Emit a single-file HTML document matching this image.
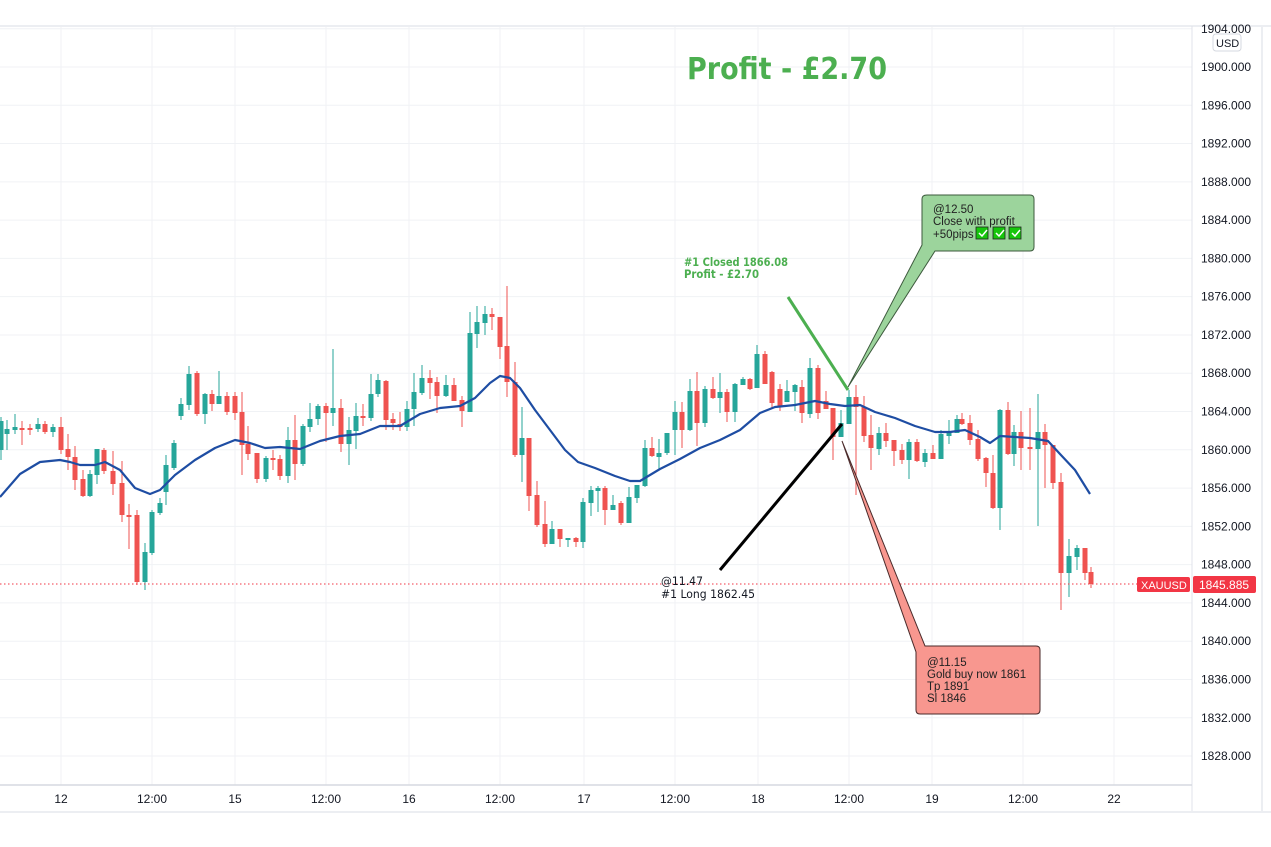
<!DOCTYPE html>
<html><head><meta charset="utf-8"><style>
body{margin:0;background:#fff;}
svg{display:block;font-family:"Liberation Sans",sans-serif;}
</style></head><body>
<svg id="s" width="1271" height="847" xmlns="http://www.w3.org/2000/svg">
<rect width="1271" height="847" fill="#fff"/>
<g id="grid"></g>
<line x1="0" y1="26" x2="1271" y2="26" stroke="#eceef2" stroke-width="2"/>
<line x1="1192" y1="26" x2="1192" y2="812" stroke="#e0e3eb"/>
<line x1="0" y1="785" x2="1192" y2="785" stroke="#d6d9e0" stroke-width="1.5"/>
<line x1="0" y1="812" x2="1271" y2="812" stroke="#eceef2" stroke-width="2"/>
<line x1="1262" y1="26" x2="1262" y2="812" stroke="#eceef2" stroke-width="2"/>
<g id="labels" font-size="12" fill="#131722"></g>
<g id="candles"></g>
<polyline id="ma" fill="none" stroke="#1e4da3" stroke-width="2.2" stroke-linejoin="round"/>
<line x1="0" y1="584" x2="1192" y2="584" stroke="#f23645" stroke-dasharray="1.5,2.5" stroke-width="1"/>
<text x="687" y="79" font-size="30" font-weight="bold" fill="#4caf50" font-family="DejaVu Sans,sans-serif" textLength="200" lengthAdjust="spacingAndGlyphs">Profit - £2.70</text>
<line x1="788" y1="297" x2="848" y2="390" stroke="#4caf50" stroke-width="3"/>
<text x="684" y="266" font-size="11.5" font-weight="bold" fill="#4caf50" font-family="DejaVu Sans,sans-serif" textLength="104" lengthAdjust="spacingAndGlyphs">#1 Closed 1866.08</text>
<text x="684" y="278" font-size="11.5" font-weight="bold" fill="#4caf50" font-family="DejaVu Sans,sans-serif" textLength="75" lengthAdjust="spacingAndGlyphs">Profit - £2.70</text>
<line x1="720" y1="570" x2="842" y2="424" stroke="#000" stroke-width="3"/>
<text x="661" y="585" font-size="11.5" fill="#131722" font-family="DejaVu Sans,sans-serif" textLength="42" lengthAdjust="spacingAndGlyphs">@11.47</text>
<text x="661" y="598" font-size="11.5" fill="#131722" font-family="DejaVu Sans,sans-serif" textLength="94" lengthAdjust="spacingAndGlyphs">#1 Long 1862.45</text>
<path d="M927,195 H1030 Q1034,195 1034,199 V247 Q1034,251 1030,251 H935 L848,387 L922,245 V199 Q922,195 927,195 Z" fill="#9cd49c" stroke="#3d5a3d" stroke-width="1"/>
<text x="933" y="213" font-size="11.5" fill="#222">@12.50</text>
<text x="933" y="225" font-size="11.5" fill="#222">Close with profit</text>
<text x="933" y="238" font-size="11.5" fill="#222">+50pips</text>
<g fill="#16c60c" stroke="#222" stroke-width="0.8">
<rect x="976" y="227" width="12" height="12"/><rect x="993" y="227" width="12" height="12"/><rect x="1009" y="227" width="12" height="12"/></g>
<g fill="none" stroke="#fff" stroke-width="1.5"><path d="M979,233 l3,3 l5,-6"/><path d="M996,233 l3,3 l5,-6"/><path d="M1012,233 l3,3 l5,-6"/></g>
<path d="M925,646 H1036 Q1040,646 1040,650 V710 Q1040,714 1036,714 H920 Q916,714 916,710 V652 L842,441 Z" fill="#f8978f" stroke="#4a2a2a" stroke-width="1"/>
<text x="927" y="666" font-size="11.5" fill="#222">@11.15</text>
<text x="927" y="678" font-size="11.5" fill="#222">Gold buy now 1861</text>
<text x="927" y="690" font-size="11.5" fill="#222">Tp 1891</text>
<text x="927" y="702" font-size="11.5" fill="#222">Sl 1846</text>
<rect x="1137" y="577" width="53" height="15" rx="2" fill="#f23645"/>
<text x="1141" y="589" font-size="11" fill="#fff">XAUUSD</text>
<rect x="1193" y="576" width="63" height="17" rx="2" fill="#f23645"/>
<text x="1199" y="589" font-size="12" fill="#fff">1845.885</text>
<rect x="1213" y="34" width="28" height="17" rx="3" fill="#fff" stroke="#d6d9e0"/>
<text x="1216" y="47" font-size="11" fill="#131722">USD</text>
</svg>
<script>
var NS="http://www.w3.org/2000/svg";
function el(p,t,a,txt){var e=document.createElementNS(NS,t);for(var k in a)e.setAttribute(k,a[k]);if(txt)e.textContent=txt;document.getElementById(p).appendChild(e);return e;}
for(var i=0;i<19;i++){var y=67+i*38.28;el("grid","line",{x1:0,x2:1192,y1:y,y2:y,stroke:"#f0f2f5"});el("labels","text",{x:1201,y:y+4},(1900-4*i).toFixed(3));}
el("grid","line",{x1:0,x2:1192,y1:28.7,y2:28.7,stroke:"#f0f2f5"});
el("labels","text",{x:1201,y:33},"1904.000");
var xs=[[61,"12"],[152,"12:00"],[235,"15"],[326,"12:00"],[409,"16"],[500,"12:00"],[584,"17"],[675,"12:00"],[758,"18"],[849,"12:00"],[932,"19"],[1023,"12:00"],[1114,"22"]];
xs.forEach(function(d){el("grid","line",{x1:d[0],x2:d[0],y1:26,y2:785,stroke:"#f0f2f5"});el("labels","text",{x:d[0],y:803,"text-anchor":"middle",fill:"#131722"},d[1]);});
var C=[[1,450,421,417,460],[7,434,429,420,450],[15,430,427,414,434],[22,428,430,421,445],[30,428,430,424,435],[38,429,424,418,432],[45,424,432,421,434],[53,432,427,424,437],[61,427,450,417,454],[68,449,457,434,470],[75,457,480,446,490],[83,479,496,470,497],[90,496,474,470,497],[97,475,449,449,484],[104,450,471,448,474],[113,471,484,451,495],[122,483,515,461,522],[129,515,516,504,549],[137,515,582,510,585],[145,582,552,543,590],[152,553,512,510,555],[160,513,503,498,515],[166,492,465,455,505],[174,468,443,440,470],[181,416,404,398,420],[189,405,374,366,410],[197,373,414,371,416],[205,414,394,393,424],[212,394,404,390,411],[219,404,396,371,404],[227,396,412,392,415],[235,396,413,392,420],[242,412,445,392,475],[248,444,454,426,460],[257,453,479,453,483],[266,479,458,456,482],[273,458,459,450,470],[280,459,476,455,480],[288,476,440,427,483],[295,440,464,415,480],[303,464,426,424,466],[310,427,419,403,432],[318,419,406,404,425],[326,406,413,403,442],[333,413,408,349,426],[341,408,444,399,452],[349,444,430,417,465],[356,431,416,403,449],[363,416,418,404,426],[371,418,394,374,421],[378,394,380,374,397],[386,381,420,380,430],[393,419,423,413,430],[400,424,427,412,431],[407,427,409,401,431],[414,409,392,373,426],[422,393,378,365,395],[430,378,383,370,399],[437,382,396,377,413],[446,396,385,375,397],[454,385,401,378,401],[462,400,411,396,427],[470,412,333,312,412],[477,334,322,306,348],[485,323,314,306,335],[492,314,317,308,330],[500,317,347,317,359],[507,346,382,286,397],[515,382,455,362,457],[522,455,438,407,482],[529,438,496,438,511],[537,495,525,481,527],[545,524,544,501,547],[552,544,529,521,544],[560,529,539,529,547],[568,540,538,538,547],[576,538,542,537,547],[583,542,502,498,548],[591,503,490,486,516],[598,491,488,486,512],[605,488,510,486,525],[613,510,505,495,510],[621,503,523,501,525],[629,523,497,487,523],[637,498,485,485,503],[645,486,448,440,487],[652,448,456,437,457],[659,457,453,439,469],[667,453,433,439,455],[675,430,412,401,455],[682,412,430,402,448],[690,430,391,379,431],[697,391,423,372,446],[705,423,389,386,427],[713,389,398,377,399],[720,398,392,373,413],[727,392,412,389,422],[735,412,384,383,422],[743,385,379,377,385],[750,379,389,378,390],[757,388,354,345,388],[765,354,384,351,384],[772,372,403,371,408],[780,389,407,384,411],[787,402,391,380,402],[795,392,385,384,411],[802,387,413,380,423],[810,414,368,358,418],[818,368,413,365,419],[826,401,409,391,409],[833,408,437,408,460],[841,437,423,410,437],[849,424,397,390,424],[856,397,407,385,495],[864,407,436,396,442],[871,435,448,415,470],[879,449,433,427,455],[886,433,441,423,447],[894,440,451,440,466],[902,450,460,444,464],[909,460,442,439,479],[917,442,461,439,462],[925,462,453,449,467],[933,453,459,445,459],[941,459,434,430,459],[949,436,433,420,444],[957,433,419,415,433],[962,419,424,413,425],[970,423,440,415,445],[978,439,459,430,461],[986,458,473,457,487],[993,473,508,455,509],[1000,508,410,409,530],[1008,410,454,402,455],[1014,454,432,425,466],[1021,432,448,411,470],[1030,447,449,408,470],[1038,449,432,394,526],[1045,432,445,424,488],[1053,445,483,445,489],[1061,482,573,473,610],[1069,573,556,539,597],[1077,557,548,545,570],[1085,548,573,548,580],[1091,572,584,567,588]];
C.forEach(function(c){var col=c[2]<c[1]?"#26a69a":"#ef5350";var t=Math.min(c[1],c[2]),b=Math.max(c[1],c[2]);if(b-t<2){b=t+2;}
el("candles","line",{x1:c[0],x2:c[0],y1:c[3],y2:c[4],stroke:col,"stroke-width":1});
el("candles","rect",{x:c[0]-2.5,y:t,width:5,height:b-t,fill:col});});
var M=[[0,497],[20,474],[40,462],[60,460],[70,462],[80,465],[95,465],[105,462],[120,470],[135,488],[150,494],[160,490],[175,475],[195,460],[215,448],[235,440],[250,443],[265,448],[280,447],[300,449],[320,441],[340,436],[360,434],[380,426],[400,426],[420,414],[440,408],[460,406],[475,398],[490,383],[500,376],[510,378],[520,388],[535,410],[550,430],[565,450],[578,462],[595,468],[615,476],[630,481],[640,481],[660,469],[680,459],[700,448],[720,440],[740,430],[760,413],[775,407],[795,405],[815,401],[830,404],[845,406],[860,405],[875,412],[895,418],[915,426],[935,432],[950,432],[965,430],[980,437],[990,443],[1000,436],[1030,438],[1048,441],[1060,454],[1075,470],[1090,494]];
document.getElementById("ma").setAttribute("points",M.map(function(p){return p.join(",");}).join(" "));
</script>
</body></html>
